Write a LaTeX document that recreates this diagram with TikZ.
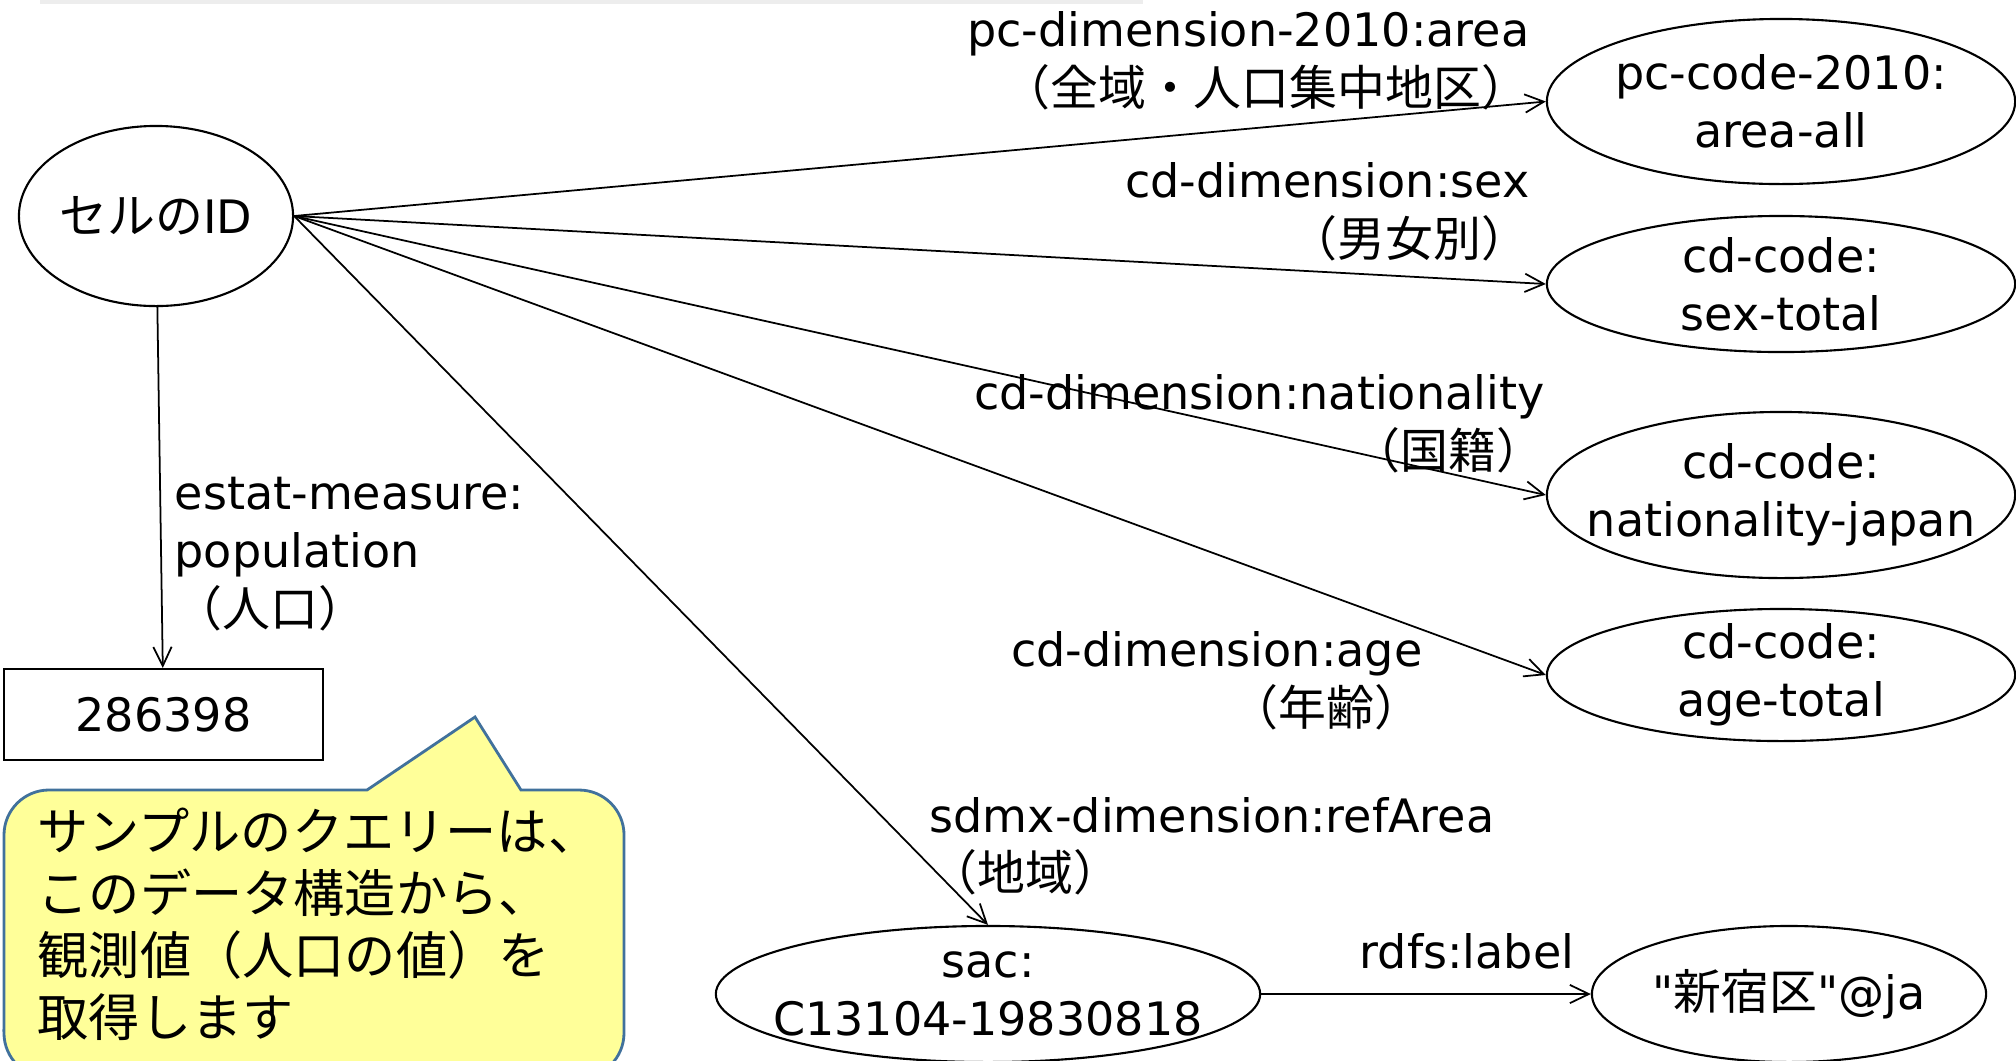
\documentclass[tikz,border=0pt]{standalone}
\usepackage{fontspec}
\setmainfont{DejaVu Sans}
\newfontfamily\jpfont{Noto Sans CJK JP}[Scale=1.04]
\font\qtfont="DejaVu Sans" at 13.1pt
\newcommand\qmark{{\qtfont\char34}}
\usepackage{tikz}
\usetikzlibrary{shapes.geometric, arrows.meta}

\definecolor{notefill}{HTML}{FFFF99}
\definecolor{noteline}{HTML}{41719C}

\tikzset{
  obj/.style={ellipse, draw, line width=0.6pt, inner sep=0pt},
  lit/.style={rectangle, draw, line width=0.6pt, inner sep=0pt},
  objtext/.style={align=center, inner sep=0pt},
  prop/.style={inner sep=0pt},
  rel/.style={-{Straight Barb[length=5.4pt, width=5.2pt]}, line width=0.5pt},
  note/.style={fill=notefill, draw=noteline, line width=0.8pt},
}

\begin{document}
\begin{tikzpicture}[x=0.01cm, y=-0.01cm, font=\fontsize{13.1pt}{16.5pt}\selectfont]
    \useasboundingbox (0,0) rectangle (2016,1060);
    \clip (0,0) rectangle (2016,1060);
    \fill[black!7] (40,0) rectangle (1143,4);

    % Nodo de la celda y su valor
    \node[obj, minimum width=2.74cm, minimum height=1.80cm] (id) at (156,216) {};
    \node[objtext] (id-t) at (id) {{\jpfont セルの}ID};
    \node[lit, minimum width=3.19cm, minimum height=0.91cm] (val) at (163.5,714.5) {286398};

    % Codigos de las dimensiones
    \node[obj, minimum width=4.68cm, minimum height=1.65cm] (area) at (1781,101.5) {};
    \node[objtext] (area-t) at (area) {pc-code-2010:\\area-all};
    \node[obj, minimum width=4.68cm, minimum height=1.36cm] (sex) at (1781,284) {};
    \node[objtext] (sex-t) at (sex) {cd-code:\\sex-total};
    \node[obj, minimum width=4.68cm, minimum height=1.66cm] (nat) at (1781,495) {};
    \node[objtext] (nat-t) at (nat) {cd-code:\\nationality-japan};
    \node[obj, minimum width=4.68cm, minimum height=1.32cm] (age) at (1781,675) {};
    \node[objtext] (age-t) at (age) {cd-code:\\age-total};

    % Area y su etiqueta
    \node[obj, minimum width=5.44cm, minimum height=1.36cm] (sac) at (988,994) {};
    \node[objtext] (sac-t) at (sac) {sac:\\C13104-19830818};
    \node[obj, minimum width=3.94cm, minimum height=1.36cm] (name) at (1789,994) {};
    \node[objtext] (name-t) at (name) {\qmark{\jpfont 新宿区}\qmark@ja};

    % Propiedades (base = ultima linea)
    \node[prop, anchor=base west, align=left] (p-pop) at (174,626)
        {estat-measure:\\population\\{\jpfont （人口）}};
    \node[prop, anchor=base east, align=right] (p-area) at (1530,105)
        {pc-dimension-2010:area\\{\jpfont （全域・人口集中地区）}};
    \node[prop, anchor=base east, align=right] (p-sex) at (1530,256)
        {cd-dimension:sex\\{\jpfont （男女別）}};
    \node[prop, anchor=base east, align=right] (p-nat) at (1545,468)
        {cd-dimension:nationality\\{\jpfont （国籍）}};
    \node[prop, anchor=base east, align=right] (p-age) at (1423,725)
        {cd-dimension:age\\{\jpfont （年齢）}};
    \node[prop, anchor=base west, align=left] (p-sac) at (929,890)
        {sdmx-dimension:refArea\\{\jpfont （地域）}};
    \node[prop, anchor=base west] (p-label) at (1359,968) {rdfs:label};

    % Flechas
    \draw[rel] (id) -- (val);
    \draw[rel] (id.east) -- (area.west);
    \draw[rel] (id.east) -- (sex.west);
    \draw[rel] (id.east) -- (nat.west);
    \draw[rel] (id.east) -- (age.west);
    \draw[rel] (id.east) -- (sac.north);
    \draw[rel] (sac) -- (name);

    % Globo con la explicacion
    \filldraw[note] (4,1033) -- (4,835) arc[start angle=180, end angle=90, radius=0.45cm]
        -- (367,790) -- (475,717) -- (521,790) -- (579,790)
        arc[start angle=90, end angle=0, radius=0.45cm] -- (624,1033)
        arc[start angle=0, end angle=-90, radius=0.45cm] -- (49,1078)
        arc[start angle=-90, end angle=-180, radius=0.45cm] -- cycle;
    \node[prop, anchor=base west, align=left, font=\jpfont\fontsize{14pt}{17.6pt}\selectfont] (note-t) at (37,1036)
        {サンプルのクエリーは、\\このデータ構造から、\\観測値（人口の値）を\\取得します};
\end{tikzpicture}
\end{document}
